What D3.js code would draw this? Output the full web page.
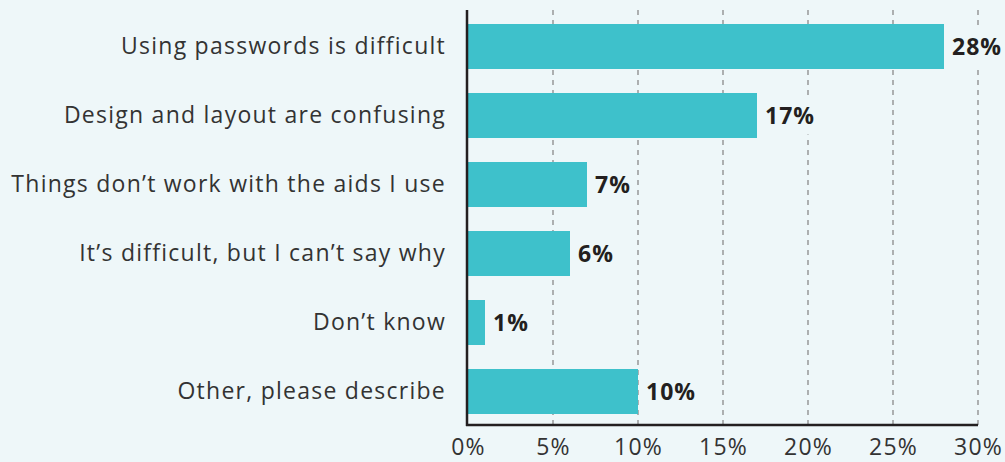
<!DOCTYPE html>
<html>
<head>
<meta charset="utf-8">
<script src="https://cdn.jsdelivr.net/npm/d3@7"></script>
<style>
  html, body { margin: 0; padding: 0; background: #eef7f9; }
  svg { display: block; }
</style>
</head>
<body>
<svg id="chart" width="1005" height="462"></svg>
<script>
let categories = [
    "Using passwords is difficult",
    "Design and layout are confusing",
    "Things don\u2019t work with the aids I use",
    "It\u2019s difficult, but I can\u2019t say why",
    "Don\u2019t know",
    "Other, please describe"
];
let values = [28, 17, 7, 6, 1, 10];
let tickValues = [0, 5, 10, 15, 20, 25, 30];

let width = 1005, height = 462;
let margin = { left: 468, right: 27, top: 10, bottom: 37 };
let bgColor = "#eef7f9";
let fontFamily = "'Open Sans', sans-serif";

let svg = d3.select("#chart");

let x = d3.scaleLinear()
          .domain([0, 30])
          .range([margin.left, width - margin.right]);

let y = d3.scaleBand()
          .domain(categories)
          .range([12, 426])
          .paddingInner(0.348)
          .paddingOuter(0.174);

function drawGrid() {
    svg.append("g")
       .selectAll("line")
       .data(tickValues.filter(d => d > 0))
       .join("line")
       .attr("x1", d => x(d))
       .attr("x2", d => x(d))
       .attr("y1", margin.top)
       .attr("y2", height - margin.bottom)
       .attr("stroke", "#8a8a8a")
       .attr("stroke-width", 1.3)
       .attr("stroke-dasharray", "5,5");
}

function drawBars() {
    svg.append("g")
       .selectAll("rect")
       .data(values)
       .join("rect")
       .attr("x", x(0))
       .attr("y", (d, i) => y(categories[i]))
       .attr("width", d => x(d) - x(0))
       .attr("height", y.bandwidth())
       .attr("fill", "#3ec1cb");

    let labels = svg.append("g")
                    .selectAll("g")
                    .data(values)
                    .join("g")
                    .attr("transform", (d, i) => `translate(${x(d) + 8},${y(categories[i]) + y.bandwidth() / 2})`);

    // knock-out box behind the value so gridlines don't run through it
    labels.append("rect")
          .attr("fill", bgColor);

    let texts = labels.append("text")
                      .attr("dy", "0.36em")
                      .attr("font-family", fontFamily)
                      .attr("font-weight", 700)
                      .attr("font-size", 23)
                      .attr("letter-spacing", 1)
                      .attr("fill", "#231f20")
                      .text(d => d + "%");

    texts.each(function() {
        let w = this.getComputedTextLength();
        d3.select(this.parentNode).select("rect")
          .attr("x", -3)
          .attr("y", -19)
          .attr("width", w + 4)
          .attr("height", 38);
    });
}

function drawAxes() {
    let axisLeft = svg.append("g")
                      .attr("transform", `translate(${x(0) - 1},0)`)
                      .call(d3.axisLeft(y).tickSize(0).tickPadding(21));
    axisLeft.select(".domain")
            .attr("d", `M0,${margin.top}V${height - margin.bottom + 1}`)
            .attr("stroke", "#231f20")
            .attr("stroke-width", 2.5);
    axisLeft.selectAll("text")
            .attr("font-family", fontFamily)
            .attr("font-size", 23)
            .attr("letter-spacing", 1.25)
            .attr("fill", "#333");

    let axisBottom = svg.append("g")
                        .attr("transform", `translate(0,${height - margin.bottom})`)
                        .call(d3.axisBottom(x)
                                .tickValues(tickValues)
                                .tickFormat(d => d + "%")
                                .tickSize(0)
                                .tickPadding(14));
    axisBottom.select(".domain")
              .attr("d", `M${x(0) - 2},0H${x(30)}`)
              .attr("stroke", "#231f20")
              .attr("stroke-width", 2.5);
    axisBottom.selectAll("text")
              .attr("font-family", fontFamily)
              .attr("font-size", 23)
              .attr("letter-spacing", 1.2)
              .attr("fill", "#333");
}

drawGrid();
drawBars();
drawAxes();
</script>
</body>
</html>
